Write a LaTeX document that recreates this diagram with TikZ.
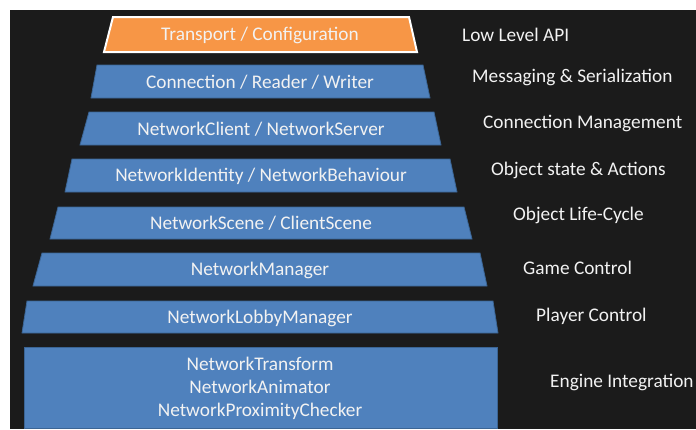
\documentclass[tikz,border=0pt]{standalone}
\usepackage{fontspec}
\setmainfont{Carlito}
\definecolor{panel}{HTML}{1B1B1B}
\definecolor{layerblue}{HTML}{4F81BD}
\definecolor{layeredge}{HTML}{3B6595}
\definecolor{layerorange}{HTML}{F79646}
\definecolor{labelwhite}{HTML}{F2F2F2}
\tikzset{
  layer/.style={fill=layerblue,draw=layeredge,line width=0.8pt},
  toplayer/.style={fill=layerorange,draw=white,line width=2pt},
  layertext/.style={text=labelwhite,font=\fontsize{19.3}{23}\selectfont,align=center,inner sep=0pt},
  roletext/.style={text=labelwhite,font=\fontsize{19.3}{23}\selectfont,anchor=west,inner sep=0pt}
}
\begin{document}
\begin{tikzpicture}[x=1pt,y=-1pt]
      \useasboundingbox (0,0) rectangle (696,429);
      \fill[white] (0,0) rectangle (696,429);
      \fill[panel] (10,10) rectangle (696,429);
      % the stack, top to bottom
      \draw[toplayer] (113,17)--(409,17)--(417,52)--(104,52)--cycle;
      \draw[layer] (97,65)--(423,65)--(430,98)--(91,98)--cycle;
      \draw[layer] (89,112)--(434,112)--(441,145)--(80,145)--cycle;
      \draw[layer] (72,159)--(450,159)--(457,192)--(65,192)--cycle;
      \draw[layer] (58,207)--(464,207)--(472,239)--(50,239)--cycle;
      \draw[layer] (42,253)--(480,253)--(487,286)--(33,286)--cycle;
      \draw[layer] (27,301)--(493,301)--(498,333)--(22,333)--cycle;
      \draw[layer] (24,347) rectangle (497,428);
      \node[layertext] (transport) at (260,35) {Transport / Configuration};
      \node[layertext] (connection) at (260,82) {Connection / Reader / Writer};
      \node[layertext] (client) at (261,129) {NetworkClient / NetworkServer};
      \node[layertext] (identity) at (261,176) {NetworkIdentity / NetworkBehaviour};
      \node[layertext] (scene) at (261,223) {NetworkScene / ClientScene};
      \node[layertext] (manager) at (260,270) {NetworkManager};
      \node[layertext] (lobby) at (260,318) {NetworkLobbyManager};
      \node[layertext] (components) at (260,388) {NetworkTransform\\NetworkAnimator\\NetworkProximityChecker};
      % what each layer does
      \node[roletext] (lowlevel) at (462,35) {Low Level API};
      \node[roletext] (messaging) at (472,77) {Messaging \& Serialization};
      \node[roletext] (connmgmt) at (483,123) {Connection Management};
      \node[roletext] (objstate) at (491,170) {Object state \& Actions};
      \node[roletext] (lifecycle) at (513,215) {Object Life-Cycle};
      \node[roletext] (gamectrl) at (523,268) {Game Control};
      \node[roletext] (playerctrl) at (536,316) {Player Control};
      \node[roletext] (engine) at (550,382) {Engine Integration};
\end{tikzpicture}
\end{document}
